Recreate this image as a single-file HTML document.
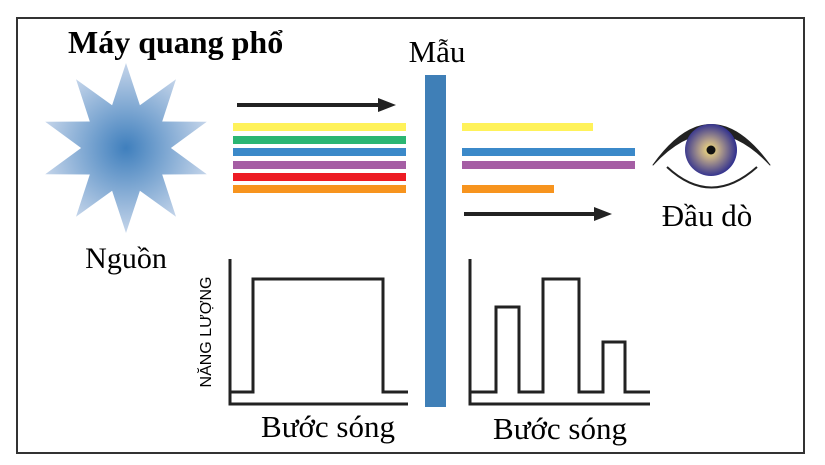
<!DOCTYPE html>
<html><head><meta charset="utf-8"><style>
body{margin:0;background:#fff;}
svg{display:block}
text{font-family:"Liberation Serif",serif;fill:#000}
</style></head><body>
<svg width="825" height="465" viewBox="0 0 825 465" xmlns="http://www.w3.org/2000/svg">
<defs>
<radialGradient id="sg" cx="126" cy="148" r="85" gradientUnits="userSpaceOnUse">
<stop offset="0" stop-color="#3f7fbd"/><stop offset="1" stop-color="#c5d5ea"/></radialGradient>
<radialGradient id="ig" cx="710" cy="150" r="27" gradientUnits="userSpaceOnUse">
<stop offset="0" stop-color="#f7e27a"/><stop offset="0.35" stop-color="#b9a48a"/><stop offset="1" stop-color="#2e2e8e"/></radialGradient>
</defs>
<rect x="17" y="18" width="787" height="435" fill="none" stroke="#333" stroke-width="2"/>
<text x="68" y="53" font-size="32" font-weight="bold">Máy quang phổ</text>
<polygon fill="url(#sg)" points="
126.0,63.0 139.9,105.2 176.0,79.2 162.2,121.5 206.8,121.7 170.9,148.0 206.8,174.3 162.2,174.5 176.0,216.8 139.9,190.8 126.0,233.0 112.1,190.8 76.0,216.8 89.8,174.5 45.2,174.3 81.1,148.0 45.2,121.7 89.8,121.5 76.0,79.2 112.1,105.2"/>
<text x="126" y="268" font-size="30" text-anchor="middle">Nguồn</text>
<line x1="237" y1="105" x2="380" y2="105" stroke="#222" stroke-width="4"/>
<polygon points="378,98 396,105 378,112" fill="#222"/>
<rect x="233" y="123" width="173" height="8" fill="#fff25a"/>
<rect x="233" y="136" width="173" height="8" fill="#2bb673"/>
<rect x="233" y="148" width="173" height="8" fill="#3b89c9"/>
<rect x="233" y="161" width="173" height="8" fill="#a55ea4"/>
<rect x="233" y="173" width="173" height="8" fill="#ed1c24"/>
<rect x="233" y="185" width="173" height="8" fill="#f7941e"/>
<rect x="425" y="75" width="21" height="332" fill="#3f7fb7"/>
<text x="437" y="62" font-size="31" text-anchor="middle">Mẫu</text>
<rect x="462" y="123" width="131" height="8" fill="#fff25a"/>
<rect x="462" y="148" width="173" height="8" fill="#3b89c9"/>
<rect x="462" y="161" width="173" height="8" fill="#a55ea4"/>
<rect x="462" y="185" width="92" height="8" fill="#f7941e"/>
<line x1="464" y1="214" x2="596" y2="214" stroke="#222" stroke-width="4"/>
<polygon points="594,207 612,214 594,221" fill="#222"/>
<path d="M653,165 Q711,84 770,165 Q711,102 653,165 Z" fill="#222" stroke="#222" stroke-width="1" stroke-linejoin="round"/>
<path d="M667,167 Q711,208 757,167" fill="none" stroke="#222" stroke-width="2"/>
<circle cx="711" cy="150" r="26" fill="url(#ig)"/>
<circle cx="711" cy="150" r="4.5" fill="#111"/>
<text x="707" y="226" font-size="31" text-anchor="middle">Đầu dò</text>
<g fill="none" stroke="#222" stroke-width="3">
<polyline points="230,259 230,404 408,404"/>
<polyline points="230,392 253,392 253,279 383,279 383,392 408,392"/>
<polyline points="470,259 470,404 650,404"/>
<polyline points="470,392 496,392 496,307 519,307 519,392 543,392 543,279 579,279 579,392 603,392 603,342 625,342 625,392 650,392"/>
</g>
<text transform="translate(211,332) rotate(-90)" font-size="16" text-anchor="middle" style="font-family:'Liberation Sans',sans-serif">NĂNG LƯỢNG</text>
<text x="328" y="437" font-size="31" text-anchor="middle">Bước sóng</text>
<text x="560" y="439" font-size="31" text-anchor="middle">Bước sóng</text>
</svg>
</body></html>
